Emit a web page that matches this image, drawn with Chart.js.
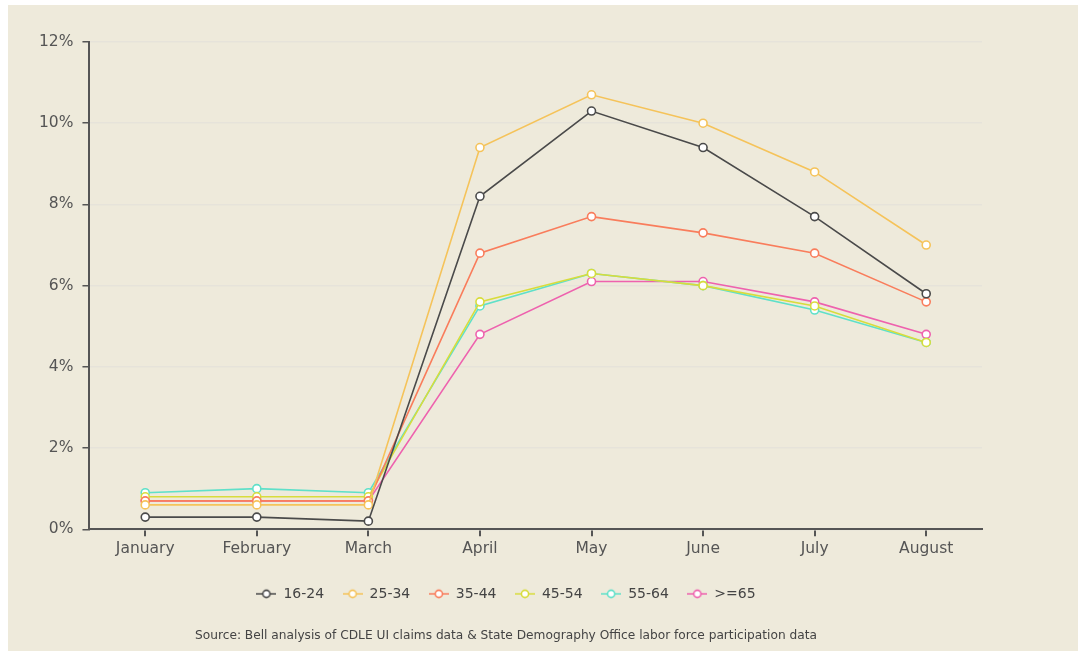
<!DOCTYPE html>
<html>
<head>
<meta charset="utf-8">
<script src="https://cdn.jsdelivr.net/npm/chart.js@4.4.1/dist/chart.umd.min.js"></script>
<style>
  html, body { margin: 0; padding: 0; background: #ffffff; }
  #panel {
    position: absolute; left: 8px; top: 5px;
    width: 1070px; height: 646px;
    background: #eeeadb;
  }
</style>
</head>
<body>
<div id="panel"><canvas id="chart" width="1070" height="646"></canvas></div>
<script>
const months = ["January", "February", "March", "April", "May", "June", "July", "August"];
const ageGroups = ["16-24", "25-34", "35-44", "45-54", "55-64", ">=65"];

const age16_24 = [0.3, 0.3, 0.2, 8.2, 10.3, 9.4, 7.7, 5.8];
const age25_34 = [0.6, 0.6, 0.6, 9.4, 10.7, 10.0, 8.8, 7.0];
const age35_44 = [0.7, 0.7, 0.7, 6.8, 7.7, 7.3, 6.8, 5.6];
const age45_54 = [0.8, 0.8, 0.8, 5.6, 6.3, 6.0, 5.5, 4.6];
const age55_64 = [0.9, 1.0, 0.9, 5.5, 6.3, 6.0, 5.4, 4.6];
const age65up  = [0.7, 0.7, 0.7, 4.8, 6.1, 6.1, 5.6, 4.8];

const yTicks = [0, 2, 4, 6, 8, 10, 12];

const colores = ["#4a4a4a", "#f5c35a", "#f97d5c", "#d8dc3c", "#5fe0c9", "#ee62ae"];
const series = [age16_24, age25_34, age35_44, age45_54, age55_64, age65up];

// icono de leyenda: linea con circulo
function iconoLeyenda(color) {
    const c = document.createElement("canvas");
    c.width = 20; c.height = 12;
    const g = c.getContext("2d");
    g.strokeStyle = color;
    g.lineWidth = 1.5;
    g.beginPath(); g.moveTo(0, 6); g.lineTo(20, 6); g.stroke();
    g.beginPath(); g.arc(10, 6, 3.6, 0, Math.PI * 2);
    g.fillStyle = "#ffffff"; g.fill();
    g.lineWidth = 1.6; g.stroke();
    return c;
}

const datasets = ageGroups.map((name, i) => ({
    label: name,
    data: series[i],
    borderColor: colores[i],
    backgroundColor: "#ffffff",
    borderWidth: 1.6,
    pointRadius: 4,
    pointBorderWidth: 1.6,
    pointBackgroundColor: "#ffffff",
    pointBorderColor: colores[i],
    tension: 0
}));

const textColor = "#555555";
const font = "'DejaVu Sans', sans-serif";

new Chart(document.getElementById("chart"), {
    type: "line",
    data: { labels: months, datasets: datasets },
    options: {
        responsive: false,
        animation: false,
        layout: { padding: { left: 22, right: 96, top: 37, bottom: 6 } },
        plugins: {
            legend: {
                position: "bottom",
                labels: {
                    color: "#444444",
                    font: { family: font, size: 14 },
                    usePointStyle: true,
                    pointStyleWidth: 20,
                    padding: 18.5,
                    generateLabels: chart => chart.data.datasets.map((ds, i) => ({
                        text: ds.label,
                        pointStyle: iconoLeyenda(ds.borderColor),
                        fontColor: "#444444",
                        strokeStyle: ds.borderColor,
                        fillStyle: "#ffffff",
                        lineWidth: 0,
                        hidden: false,
                        datasetIndex: i
                    }))
                }
            },
            title: {
                display: true,
                position: "bottom",
                text: "Source: Bell analysis of CDLE UI claims data & State Demography Office labor force participation data",
                color: "#444444",
                font: { family: font, size: 12.2, weight: "normal" },
                padding: { top: 17.5, bottom: 2 }
            },
            tooltip: { enabled: false }
        },
        scales: {
            x: {
                offset: true,
                afterFit: axis => { axis.height += 7.5; },
                grid: { display: true, drawOnChartArea: false, tickColor: "#555555", tickLength: 7, lineWidth: 2 },
                border: { color: "#555555", width: 2 },
                ticks: { color: textColor, font: { family: font, size: 15.5 }, padding: 3 }
            },
            y: {
                min: 0, max: 12,
                afterBuildTicks: axis => { axis.ticks = yTicks.map(v => ({ value: v })); },
                grid: { color: "#e6e3da", lineWidth: 1.5, tickColor: "#555555", tickLength: 7 },
                border: { color: "#555555", width: 2 },
                ticks: { color: textColor, font: { family: font, size: 15.5 }, padding: 9, callback: v => v + "%" }
            }
        }
    }
});
</script>
</body>
</html>
